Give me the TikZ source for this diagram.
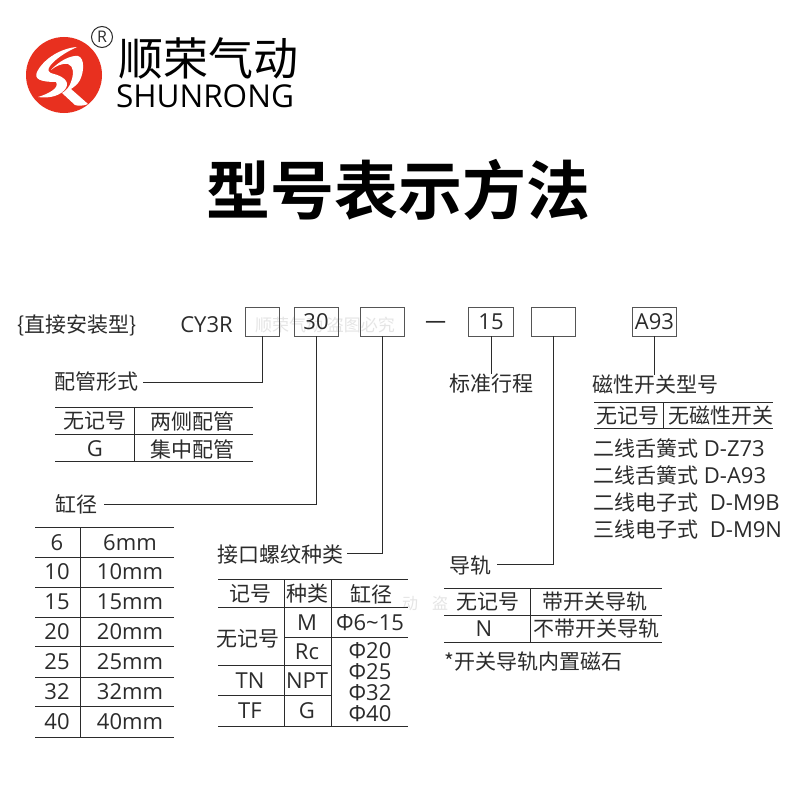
\documentclass[tikz,border=0pt]{standalone}
\usepackage{fontspec}
\setmainfont{Open Sans}
\newfontfamily\cjk[BoldFont={Noto Sans CJK SC Bold}]{Noto Sans CJK SC}
\definecolor{ink}{HTML}{2B2B2B}
\definecolor{logored}{HTML}{E8301F}
\tikzset{
  tbl/.style={line width=1pt,draw=ink},
  conn/.style={line width=1pt,draw=ink},
  slot/.style={draw=ink!80,line width=0.9pt,minimum height=29pt,inner sep=0pt,font=\fontsize{22}{22}\selectfont,text=ink},
  zh/.style={font=\cjk\fontsize{21}{22}\selectfont,text=ink,inner sep=0pt},
  la/.style={font=\fontsize{22}{24}\selectfont,text=ink,inner sep=0pt},
  mixed/.style={font=\fontsize{22}{22}\selectfont,text=ink,inner sep=0pt,anchor=west},
  wm/.style={font=\cjk\fontsize{17}{17}\selectfont,text=black!10,inner sep=0pt},
}
\newcommand{\zhrun}[1]{{\cjk\fontsize{21}{22}\selectfont #1}}
\newcommand{\slottext}[1]{\raisebox{-2.5pt}{#1}}
\begin{document}
\begin{tikzpicture}[x=1pt,y=-1pt]
\useasboundingbox (0,0) rectangle (800,800);
\fill[white] (0,0) rectangle (800,800);
% logo
\fill[logored] (64,75) circle (38);
\fill[white] (77,47) .. controls (62,48) and (44,58) .. (37,72)
  .. controls (34,79) and (40,82) .. (56,82) .. controls (60,88) and (48,94) .. (38,97)
  .. controls (50,99) and (62,95) .. (66,88) .. controls (70,81) and (62,76) .. (54,74)
  .. controls (48,73) and (47,70) .. (50,66) .. controls (55,59) and (66,52) .. (77,47) -- cycle;
\fill[white] (51,70) .. controls (58,62) and (70,55) .. (78,56)
  .. controls (85,58) and (84,72) .. (80,80) .. controls (78,84) and (74,87) .. (71,89)
  -- (88,104) .. controls (84,106) and (78,106) .. (75,105) -- (62,93)
  .. controls (66,91) and (70,86) .. (71,82) .. controls (74,74) and (74,66) .. (68,64)
  .. controls (62,63) and (56,66) .. (51,70) -- cycle;
\node[draw=ink,line width=1pt,circle,minimum size=21pt,inner sep=0pt,font=\fontsize{16}{16}\selectfont,text=ink] (reg) at (102,37) {R};
\node[inner sep=0pt,text=black,font=\cjk\fontsize{45}{45}\selectfont] (brand) at (208,58) {顺荣气动};
\node[inner sep=0pt,text=black,font=\fontsize{31.5}{32}\selectfont] (brandlat) at (205,96) {SHUNRONG};
% title
\node[inner sep=0pt,text=black,font=\cjk\bfseries\fontsize{64}{64}\selectfont] (title) at (398,190) {型号表示方法};
% watermarks
\node[wm] (wm1) at (325,325) {顺荣气动 盗图必究};
\node[wm,font=\cjk\fontsize{16}{16}\selectfont] (wm2) at (425,603) {动\hspace{14pt}盗};
% model row
\node[zh] (kind) at (77,325) {\{直接安装型\}};
\node[la] (cy) at (206.5,325) {CY3R};
\node[slot,minimum width=34pt] (b1) at (262,321.5) {};
\node[slot,minimum width=44pt] (b2) at (316,321.5) {\slottext{30}};
\node[slot,minimum width=44pt] (b3) at (382,321.5) {};
\node[zh] (dash) at (436,326) {一};
\node[slot,minimum width=45pt] (b4) at (491,321.5) {\slottext{15}};
\node[slot,minimum width=44pt] (b5) at (553,321.5) {};
\node[slot,minimum width=44pt] (b6) at (654.5,321.5) {\slottext{A93}};
% labels
\node[zh] (l1) at (96,382) {配管形式};
\node[zh] (l2) at (76.5,504) {缸径};
\node[zh] (l3) at (280,555) {接口螺纹种类};
\node[zh] (l4) at (491,384) {标准行程};
\node[zh] (l5) at (470,566) {导轨};
\node[zh] (l6) at (655,385) {磁性开关型号};
% connectors
\draw[conn] (b1.south) |- ([xshift=5pt]l1.east);
\draw[conn] (b2.south) |- ([xshift=6pt]l2.east);
\draw[conn] (b3.south) |- ([xshift=4pt,yshift=1.5pt]l3.east);
\draw[conn] (b4.south) -- (b4.south |- l4.north);
\draw[conn] (b5.south) |- ([xshift=6pt,yshift=1.5pt]l5.east);
\draw[conn] (b6.south) -- (b6.south |- l6.north);
% table 1
\draw[tbl] (55,407) -- (253,407) (55,434) -- (253,434) (55,461) -- (253,461) (134,407) -- (134,461);
\node[zh] (t1a) at (95,421) {无记号};
\node[zh] (t1b) at (192,421) {两侧配管};
\node[la] (t1c) at (95,449) {G};
\node[zh] (t1d) at (192,449) {集中配管};
% table 2
\draw[tbl] (35,527) -- (174,527) (35,557) -- (174,557) (35,587) -- (174,587) (35,617) -- (174,617)
 (35,646) -- (174,646) (35,677) -- (174,677) (35,706) -- (174,706) (35,737) -- (174,737) (80,527) -- (80,737);
\foreach \n/\y in {6/543,10/572,15/602,20/632,25/662,32/692,40/722}{
  \node[la] (ta\n) at (57,\y) {\n};
  \node[la] (tb\n) at (130,\y) {\n mm};
}
% table 3
\draw[tbl] (218,579) -- (408,579) (218,607) -- (408,607) (284,637) -- (408,637) (218,665) -- (331,665)
 (218,695) -- (331,695) (218,726) -- (408,726) (284,579) -- (284,726) (331,579) -- (331,726);
\node[zh] (c1) at (250,594) {记号};
\node[zh] (c2) at (307,594) {种类};
\node[zh] (c3) at (371,594) {缸径};
\node[zh] (c4) at (248,639) {无记号};
\node[la] (c5) at (307,623) {M};
\node[la] (c6) at (370,623) {Φ6\textasciitilde 15};
\node[la] (c7) at (307,652) {Rc};
\node[la] (c8) at (370,651) {Φ20};
\node[la] (c9) at (370,672) {Φ25};
\node[la] (c10) at (370,693) {Φ32};
\node[la] (c11) at (370,714) {Φ40};
\node[la] (c12) at (250,681) {TN};
\node[la] (c13) at (307,681) {NPT};
\node[la] (c14) at (250,711) {TF};
\node[la] (c15) at (307,711) {G};
% table 4
\draw[tbl] (444,588) -- (662,588) (444,615) -- (662,615) (444,642) -- (662,642) (530,588) -- (530,642);
\node[zh] (d1) at (488,602) {无记号};
\node[zh] (d2) at (595,602) {带开关导轨};
\node[la] (d3) at (484,629) {N};
\node[zh] (d4) at (596,629) {不带开关导轨};
\node[zh,anchor=west] (d5) at (444,662) {*开关导轨内置磁石};
% table 5
\draw[tbl] (594,402) -- (773,402) (594,428) -- (773,428) (663,402) -- (663,428);
\node[zh] (e1) at (628,416) {无记号};
\node[zh] (e2) at (721,416) {无磁性开关};
\node[mixed] (f1) at (593,449) {\zhrun{二线舌簧式} D-Z73};
\node[mixed] (f2) at (593,476) {\zhrun{二线舌簧式} D-A93};
\node[mixed] (f3) at (593,503) {\zhrun{二线电子式}\hspace{6pt} D-M9B};
\node[mixed] (f4) at (593,530) {\zhrun{三线电子式}\hspace{6pt} D-M9N};
\end{tikzpicture}
\end{document}
